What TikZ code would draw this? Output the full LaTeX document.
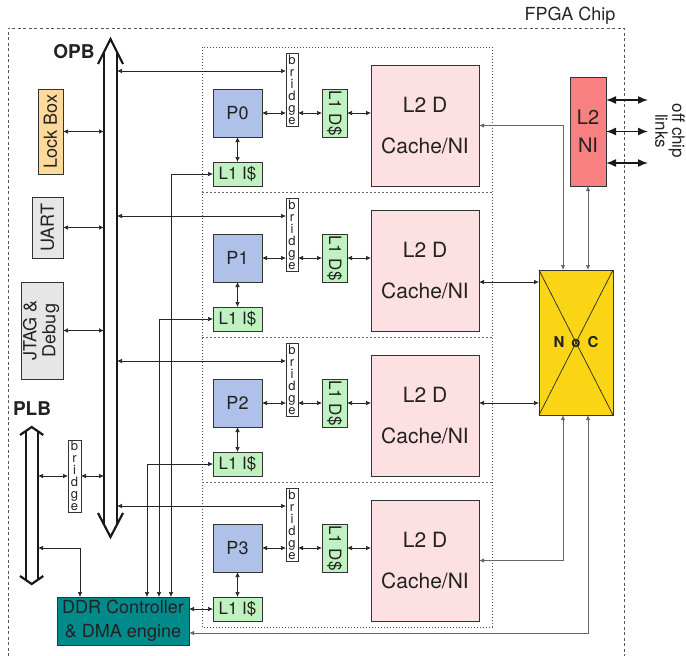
\documentclass[tikz,border=0pt]{standalone}
\usepackage{fontspec}
\setmainfont{TeX Gyre Heros}
\usetikzlibrary{arrows.meta}
\definecolor{pblue}{HTML}{AFC1E9}
\definecolor{lgreen}{HTML}{BFF2C0}
\definecolor{lpink}{HTML}{FDE0E1}
\definecolor{nired}{HTML}{F88080}
\definecolor{nocy}{HTML}{FAD515}
\definecolor{lockc}{HTML}{FDDA9A}
\definecolor{lgray}{HTML}{E6E6E6}
\definecolor{ddrc}{HTML}{008B8B}
\definecolor{txt}{HTML}{222222}
\newcommand\fsz[2]{\fontsize{#1}{#2}\selectfont}
\begin{document}
\begin{tikzpicture}[x=1pt,y=-1pt,
  box/.style={draw=black!80, line width=0.8pt, inner sep=0pt, outer sep=0pt, anchor=center, text=txt},
  con/.style={{Latex[length=5pt,width=4.5pt]}-{Latex[length=5pt,width=4.5pt]}, line width=0.7pt, draw=black!85},
  gcon/.style={con, draw=black!60, line width=0.9pt},
  bus/.style={line width=2.2pt, line join=miter, draw=black!90},
  offc/.style={{Latex[length=10pt,width=8pt]}-{Latex[length=10pt,width=8pt]}, line width=1.5pt, draw=black!90},
  bridgebox/.style={box, fill=white, minimum width=12, minimum height=73, font=\fsz{13}{12}, align=center},
  lbl/.style={inner sep=0pt, text=txt},
]
\useasboundingbox (0,0) rectangle (686,656);

% FPGA chip outline
\draw[draw=black!65, line width=0.8pt, dash pattern=on 3pt off 2.5pt] (8,656) -- (8,28) -- (624,28) -- (624,656);
\node[lbl, font=\fsz{18}{20}, text=black!85] (fpga) at (570,16) {FPGA Chip};

% tile area
\draw[draw=black!70, line width=0.8pt, dash pattern=on 0.8pt off 2.2pt] (202,47) rectangle (492,627);
\foreach \yy in {192,337,482}
  \draw[draw=black!60, line width=0.8pt, dash pattern=on 2pt off 2pt] (202,\yy) -- (492,\yy);

% OPB bus
\draw[bus] (98,64) -- (110.5,39) -- (123,64);
\draw[bus] (98,513) -- (110.5,537) -- (123,513);
\draw[bus] (104,52) -- (104,524.5);
\draw[bus] (117,52) -- (117,524.5);
\coordinate (opbL) at (104,0);
\coordinate (opbR) at (117,0);
\node[lbl, font=\fsz{19}{20}\bfseries] (opb) at (74,52) {OPB};

% PLB bus
\draw[bus] (20,435) -- (31.7,427) -- (43.3,435);
\draw[bus] (20,576) -- (31.7,584) -- (43.3,576);
\draw[bus] (26,431) -- (26,580);
\draw[bus] (38,431) -- (38,580);
\coordinate (plbR) at (38,0);
\node[lbl, font=\fsz{19}{20}\bfseries] (plb) at (32,409) {PLB};

% left peripherals
\node[box, fill=lockc, minimum width=25, minimum height=85, font=\fsz{18}{20}] (LB) at (50.5,131.5) {\rotatebox{90}{Lock Box}};
\node[box, fill=lgray, minimum width=31, minimum height=61, font=\fsz{18}{20}] (UART) at (47.5,227.5) {\rotatebox{90}{UART}};
\node[box, fill=lgray, minimum width=42, minimum height=97, font=\fsz{18}{19}] (JTAG) at (42,330.5) {\rotatebox{90}{\begin{tabular}{@{}c@{}}JTAG \&\\Debug\end{tabular}}};
\node[bridgebox, minimum width=13, minimum height=72] (PB) at (74.5,476) {b\\r\\i\\d\\g\\e};
\node[box, fill=ddrc, minimum width=132, minimum height=48, align=center, font=\fsz{18}{24}] (DDR) at (123,621) {DDR Controller\\\& DMA engine};

\draw[con] (LB.east) -- (LB.east -| opbL);
\draw[con] (UART.east) -- (UART.east -| opbL);
\draw[con] (JTAG.east) -- (JTAG.east -| opbL);
\draw[con] (plbR |- PB.west) -- (PB.west);
\draw[con] (PB.east) -- (PB.east -| opbL);
\coordinate (plbd) at (38,548);
\draw[con] (plbd) -| ([xshift=-43pt]DDR.north);

% tiles
\foreach \k in {0,1,2,3}{
  \pgfmathsetmacro{\dy}{145*\k}
  \node[bridgebox] (B\k) at ({292},{89.5+\dy}) {b\\r\\i\\d\\g\\e};
  \node[box, fill=pblue, minimum width=49, minimum height=48, font=\fsz{18}{20}] (P\k) at ({237.5},{113+\dy}) {P\k};
  \node[box, fill=lgreen, minimum width=49, minimum height=24, font=\fsz{17}{20}] (I\k) at ({237.5},{174+\dy}) {L1 I\$};
  \node[box, fill=lgreen, minimum width=25, minimum height=48, font=\fsz{17}{20}] (D\k) at ({334.5},{113+\dy}) {\rotatebox{-90}{L1 D\$}};
  \node[box, fill=lpink, minimum width=108, minimum height=121, align=center, font=\fsz{21}{41}] (L\k) at ({425},{125.5+\dy}) {L2 D\\Cache/NI};
  \coordinate (bin\k) at ([yshift=18.5pt]B\k.west);
  \draw[con] (opbR |- bin\k) -- (bin\k);
  \draw[con] (P\k.east) -- (P\k.east -| B\k.west);
  \draw[con] (D\k.west -| B\k.east) -- (D\k.west);
  \draw[con] (D\k.east) -- (D\k.east -| L\k.west);
  \draw[con] (P\k.south) -- (I\k.north);
}
\foreach \k in {0,1,2}{
  \pgfmathsetmacro{\xs}{48-12*\k}
  \draw[con] (I\k.west) -| ([xshift=\xs pt]DDR.north);
}
\draw[con] (I3.west) -- (I3.west -| DDR.east);

% L2 NI
\node[box, fill=nired, minimum width=36, minimum height=109, align=center, font=\fsz{20}{28}] (NI) at (588,131.5) {L2\\NI};
\coordinate (ocx) at (648,0);
\draw[offc] ([yshift=31.5pt]NI.east) -- ([yshift=31.5pt]NI.east -| ocx);
\draw[offc] (NI.east) -- (NI.east -| ocx);
\draw[offc] ([yshift=-31.5pt]NI.east) -- ([yshift=-31.5pt]NI.east -| ocx);
\node[lbl, rotate=-90, align=center, font=\fsz{17}{15}] (offchip) at (670,131) {off chip\\links};

% NoC
\node[box, fill=nocy, minimum width=74, minimum height=145] (NOC) at (576,342.5) {};
\draw[draw=black!85, line width=0.7pt] (NOC.north west) -- (NOC.south east);
\draw[draw=black!85, line width=0.7pt] (NOC.north east) -- (NOC.south west);
\node[lbl, font=\fsz{15}{16}\bfseries] (noct) at (NOC.center) {N\hspace{7pt}o\hspace{7pt}C};

% NoC connections
\draw[gcon] (L0.east) -| ([xshift=-13pt]NOC.north);
\draw[gcon] (NI.south) -- (NI.south |- NOC.north);
\coordinate (n1) at ([yshift=-12pt]NOC.north west);
\coordinate (n2) at ([yshift=12pt]NOC.south west);
\draw[con] (n1 -| L1.east) -- (n1);
\draw[con] (n2 -| L2.east) -- (n2);
\draw[gcon] (L3.east) -| ([xshift=-13pt]NOC.south);
\draw[gcon] ([yshift=-12pt]DDR.east) -| ([xshift=12pt]NOC.south);
\end{tikzpicture}
\end{document}
